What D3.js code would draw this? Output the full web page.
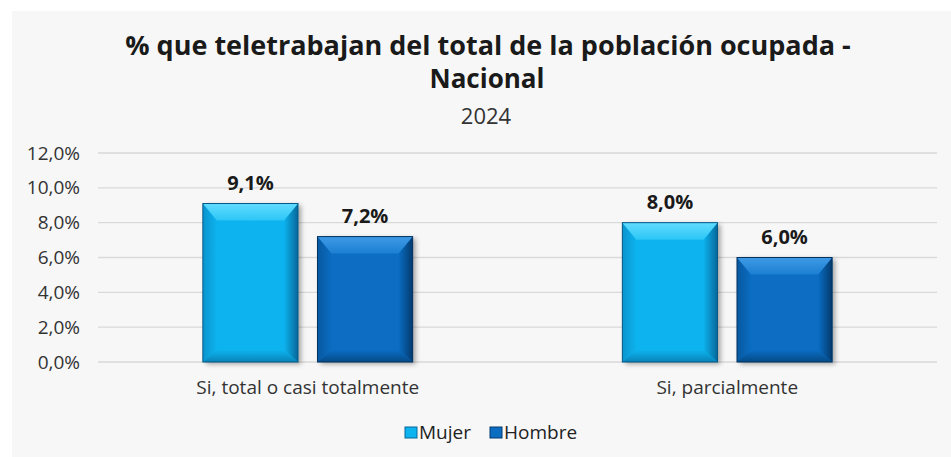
<!DOCTYPE html>
<html lang="es">
<head>
  <meta charset="UTF-8">
  <title>% que teletrabajan del total de la población ocupada - Nacional</title>
  <style>
    body { margin: 0; background: #ffffff; }
    svg text { font-family: "Open Sans", "Noto Sans", sans-serif; fill: #1a1a1a; }
    .grid line { stroke: #d9d9d9; stroke-width: 1.3; }
    .axis text { font-size: 19px; fill: #333; }
  </style>
</head>
<body>
  <svg id="chart"></svg>

  <script src="https://cdn.jsdelivr.net/npm/d3@7/dist/d3.min.js"></script>
  <script>
    // data
    const categories = ["Si, total o casi totalmente", "Si, parcialmente"];
    const seriesNames = ["Mujer", "Hombre"];
    const mujer = [9.1, 8.0];
    const hombre = [7.2, 6.0];
    const yTicks = [0, 2, 4, 6, 8, 10, 12];

    const W = 951, H = 457;
    const margin = { top: 153, right: 14, bottom: 95, left: 98 };
    const width = W - margin.left - margin.right;
    const height = H - margin.top - margin.bottom;

    // bevel colours per series
    const palette = {
      Mujer:  { face: "#0db3ee", topOut: "#62dcff", topIn: "#2cc6f6", sideOut: "#0a94cf", rightOut: "#06679a", bottomOut: "#0883b8" },
      Hombre: { face: "#0a6dc2", topOut: "#3f9ae6", topIn: "#1c7fd2", sideOut: "#08589f", rightOut: "#033a6e", bottomOut: "#054a86" }
    };

    const svg = d3.select("#chart").attr("width", W).attr("height", H);

    svg.append("rect")
      .attr("x", 12).attr("y", 11)
      .attr("width", W - 12).attr("height", H - 11)
      .attr("fill", "#f7f7f7");

    const defs = svg.append("defs");
    const shadow = defs.append("filter").attr("id", "shadow")
      .attr("x", "-20%").attr("y", "-20%").attr("width", "140%").attr("height", "140%");
    shadow.append("feDropShadow")
      .attr("dx", 3).attr("dy", 2).attr("stdDeviation", 2.5)
      .attr("flood-color", "#000").attr("flood-opacity", 0.35);

    function grad(id, x2, y2, c1, c2) {
      const lg = defs.append("linearGradient").attr("id", id)
        .attr("x1", 0).attr("y1", 0).attr("x2", x2).attr("y2", y2);
      lg.append("stop").attr("offset", "0%").attr("stop-color", c1);
      lg.append("stop").attr("offset", "100%").attr("stop-color", c2);
    }
    seriesNames.forEach(s => {
      const p = palette[s];
      grad(`top-${s}`, 0, 1, p.topOut, p.topIn);
      grad(`left-${s}`, 1, 0, p.sideOut, p.face);
      grad(`right-${s}`, 1, 0, p.face, p.rightOut);
      grad(`bottom-${s}`, 0, 1, p.face, p.bottomOut);
    });

    // titles
    svg.append("text")
      .attr("x", 488).attr("y", 55)
      .attr("text-anchor", "middle")
      .style("font-size", "27px").style("font-weight", "bold")
      .text("% que teletrabajan del total de la población ocupada -");
    svg.append("text")
      .attr("x", 487).attr("y", 88)
      .attr("text-anchor", "middle")
      .style("font-size", "26px").style("font-weight", "bold")
      .text("Nacional");
    svg.append("text")
      .attr("x", 486).attr("y", 124)
      .attr("text-anchor", "middle")
      .style("font-size", "22px").style("fill", "#333")
      .text("2024");

    const g = svg.append("g").attr("transform", `translate(${margin.left},${margin.top})`);

    const x0 = d3.scaleBand().domain(categories).range([0, width]);
    const x1 = d3.scaleBand().domain(seriesNames)
      .range([x0.bandwidth() * 0.25, x0.bandwidth() * 0.75]).paddingInner(0.17);
    const y = d3.scaleLinear().domain([0, 12]).range([height, 0]);

    const fmt = v => d3.format(".1f")(v).replace(".", ",") + "%";

    // gridlines
    g.append("g").attr("class", "grid")
      .selectAll("line").data(yTicks).join("line")
      .attr("x1", 0).attr("x2", width)
      .attr("y1", d => y(d)).attr("y2", d => y(d));

    // y axis labels
    const yAxis = d3.axisLeft(y).tickValues(yTicks).tickFormat(fmt).tickSize(0).tickPadding(18);
    g.append("g").attr("class", "axis").call(yAxis)
      .call(a => a.select(".domain").remove());

    // x axis labels
    const xAxis = d3.axisBottom(x0).tickSize(0).tickPadding(19);
    g.append("g").attr("class", "axis")
      .attr("transform", `translate(0,${height})`)
      .call(xAxis)
      .call(a => a.select(".domain").remove());

    const rows = [];
    categories.forEach((c, i) => {
      rows.push({ cat: c, series: "Mujer", value: mujer[i] });
      rows.push({ cat: c, series: "Hombre", value: hombre[i] });
    });

    const bars = g.selectAll(".bar").data(rows).join("g")
      .attr("class", "bar")
      .attr("transform", d => `translate(${x0(d.cat) + x1(d.series)},${y(d.value)})`);

    const bw = x1.bandwidth();
    const bevTop = 17, bevSide = 14, bevBottom = 12;

    bars.each(function(d) {
      const h = height - y(d.value);
      const p = palette[d.series];
      const s = d.series;
      const b = d3.select(this);
      const kt = Math.min(bevTop, h / 2), ks = bevSide, kb = Math.min(bevBottom, h / 2);
      b.append("rect").attr("width", bw).attr("height", h)
        .attr("fill", p.face).attr("filter", "url(#shadow)");
      const poly = (pts, fill) => b.append("polygon")
        .attr("points", pts.map(q => q.join(",")).join(" ")).attr("fill", fill);
      poly([[0, 0], [ks, kt], [ks, h - kb], [0, h]], `url(#left-${s})`);
      poly([[bw, 0], [bw, h], [bw - ks, h - kb], [bw - ks, kt]], `url(#right-${s})`);
      poly([[0, h], [ks, h - kb], [bw - ks, h - kb], [bw, h]], `url(#bottom-${s})`);
      poly([[0, 0], [bw, 0], [bw - ks, kt], [ks, kt]], `url(#top-${s})`);
      b.append("rect").attr("width", bw).attr("height", h)
        .attr("fill", "none").attr("stroke", d3.color(p.rightOut).darker(0.4)).attr("stroke-width", 1);
    });

    // data labels
    g.selectAll(".lbl").data(rows).join("text")
      .attr("class", "lbl")
      .attr("x", d => x0(d.cat) + x1(d.series) + bw / 2)
      .attr("y", d => y(d.value) - 14)
      .attr("text-anchor", "middle")
      .style("font-size", "20px").style("font-weight", "bold")
      .text(d => fmt(d.value));

    // legend
    const legend = svg.append("g").attr("transform", "translate(405,427)");
    const legX = [0, 85];
    seriesNames.forEach((s, i) => {
      const item = legend.append("g").attr("transform", `translate(${legX[i]},0)`);
      const p = palette[s];
      item.append("rect").attr("x", 0).attr("y", 0).attr("width", 12).attr("height", 11)
        .attr("fill", p.face).attr("stroke", p.rightOut).attr("stroke-width", 1);
      item.append("text").attr("x", 14).attr("y", 12)
        .style("font-size", "19px").style("fill", "#222")
        .text(s);
    });
  </script>
</body>
</html>
